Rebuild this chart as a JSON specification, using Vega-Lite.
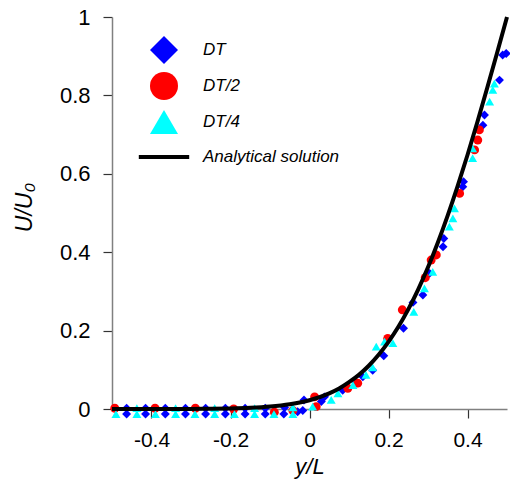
{
  "$schema": "https://vega.github.io/schema/vega-lite/v6.json",
  "width": 395,
  "height": 392,
  "autosize": "none",
  "padding": {"left": 112, "top": 17, "right": 3, "bottom": 75},
  "background": "white",
  "config": {
    "view": {"stroke": null},
    "font": "Liberation Sans"
  },
  "datasets": {
    "pts": [
      {"series": "DT", "x": -0.463, "u": 0.002}, {"series": "DT", "x": -0.415, "u": 0.002}, {"series": "DT", "x": -0.365, "u": 0.002}, {"series": "DT", "x": -0.314, "u": 0.002}, {"series": "DT", "x": -0.263, "u": 0.002}, {"series": "DT", "x": -0.213, "u": 0.002}, {"series": "DT", "x": -0.163, "u": 0.002}, {"series": "DT", "x": -0.112, "u": 0.002}, {"series": "DT", "x": -0.063, "u": 0.004},
      {"series": "DT", "x": -0.463, "u": -0.013}, {"series": "DT", "x": -0.415, "u": -0.013}, {"series": "DT", "x": -0.365, "u": -0.013}, {"series": "DT", "x": -0.314, "u": -0.013}, {"series": "DT", "x": -0.263, "u": -0.013}, {"series": "DT", "x": -0.213, "u": -0.013}, {"series": "DT", "x": -0.163, "u": -0.013}, {"series": "DT", "x": -0.112, "u": -0.013}, {"series": "DT", "x": -0.065, "u": -0.013}, {"series": "DT", "x": -0.03, "u": -0.007},
      {"series": "DT", "x": -0.017, "u": -0.004}, {"series": "DT", "x": -0.014, "u": 0.023}, {"series": "DT", "x": 0.03, "u": 0.019}, {"series": "DT", "x": 0.038, "u": 0.031}, {"series": "DT", "x": 0.084, "u": 0.048}, {"series": "DT", "x": 0.118, "u": 0.066}, {"series": "DT", "x": 0.135, "u": 0.082}, {"series": "DT", "x": 0.16, "u": 0.099}, {"series": "DT", "x": 0.188, "u": 0.136}, {"series": "DT", "x": 0.238, "u": 0.206}, {"series": "DT", "x": 0.262, "u": 0.272}, {"series": "DT", "x": 0.287, "u": 0.291}, {"series": "DT", "x": 0.304, "u": 0.346}, {"series": "DT", "x": 0.338, "u": 0.414}, {"series": "DT", "x": 0.34, "u": 0.435}, {"series": "DT", "x": 0.388, "u": 0.567}, {"series": "DT", "x": 0.39, "u": 0.58}, {"series": "DT", "x": 0.439, "u": 0.724}, {"series": "DT", "x": 0.443, "u": 0.75}, {"series": "DT", "x": 0.481, "u": 0.839}, {"series": "DT", "x": 0.489, "u": 0.903}, {"series": "DT", "x": 0.498, "u": 0.907},
      {"series": "DT/2", "x": -0.493, "u": 0.002}, {"series": "DT/2", "x": -0.391, "u": 0.002}, {"series": "DT/2", "x": -0.289, "u": 0.002}, {"series": "DT/2", "x": -0.192, "u": 0.0}, {"series": "DT/2", "x": -0.089, "u": -0.008}, {"series": "DT/2", "x": -0.042, "u": -0.004},
      {"series": "DT/2", "x": 0.013, "u": 0.031}, {"series": "DT/2", "x": 0.017, "u": 0.006}, {"series": "DT/2", "x": 0.097, "u": 0.053}, {"series": "DT/2", "x": 0.122, "u": 0.066}, {"series": "DT/2", "x": 0.198, "u": 0.18}, {"series": "DT/2", "x": 0.235, "u": 0.253}, {"series": "DT/2", "x": 0.293, "u": 0.335}, {"series": "DT/2", "x": 0.308, "u": 0.38}, {"series": "DT/2", "x": 0.321, "u": 0.393}, {"series": "DT/2", "x": 0.38, "u": 0.55}, {"series": "DT/2", "x": 0.418, "u": 0.661}, {"series": "DT/2", "x": 0.426, "u": 0.686}, {"series": "DT/2", "x": 0.43, "u": 0.712},
      {"series": "DT/4", "x": -0.437, "u": 0.002}, {"series": "DT/4", "x": -0.339, "u": 0.002}, {"series": "DT/4", "x": -0.24, "u": 0.002}, {"series": "DT/4", "x": -0.139, "u": 0.002}, {"series": "DT/4", "x": -0.042, "u": 0.004},
      {"series": "DT/4", "x": -0.49, "u": -0.013}, {"series": "DT/4", "x": -0.437, "u": -0.013}, {"series": "DT/4", "x": -0.39, "u": -0.013}, {"series": "DT/4", "x": -0.339, "u": -0.013}, {"series": "DT/4", "x": -0.29, "u": -0.013}, {"series": "DT/4", "x": -0.24, "u": -0.013}, {"series": "DT/4", "x": -0.19, "u": -0.013}, {"series": "DT/4", "x": -0.139, "u": -0.013}, {"series": "DT/4", "x": -0.09, "u": -0.013}, {"series": "DT/4", "x": -0.042, "u": -0.013},
      {"series": "DT/4", "x": 0.008, "u": 0.006}, {"series": "DT/4", "x": 0.055, "u": 0.023}, {"series": "DT/4", "x": 0.072, "u": 0.04}, {"series": "DT/4", "x": 0.11, "u": 0.061}, {"series": "DT/4", "x": 0.143, "u": 0.087}, {"series": "DT/4", "x": 0.16, "u": 0.106}, {"series": "DT/4", "x": 0.169, "u": 0.159}, {"series": "DT/4", "x": 0.19, "u": 0.172}, {"series": "DT/4", "x": 0.211, "u": 0.168}, {"series": "DT/4", "x": 0.264, "u": 0.248}, {"series": "DT/4", "x": 0.291, "u": 0.308}, {"series": "DT/4", "x": 0.312, "u": 0.35}, {"series": "DT/4", "x": 0.354, "u": 0.465}, {"series": "DT/4", "x": 0.363, "u": 0.486}, {"series": "DT/4", "x": 0.367, "u": 0.512}, {"series": "DT/4", "x": 0.413, "u": 0.64}, {"series": "DT/4", "x": 0.413, "u": 0.665}, {"series": "DT/4", "x": 0.456, "u": 0.784}, {"series": "DT/4", "x": 0.464, "u": 0.814}, {"series": "DT/4", "x": 0.468, "u": 0.83}
    ],
    "analytic": [
      {"x": -0.5, "u": 0.0}, {"x": -0.35, "u": 0.0}, {"x": -0.3, "u": 0.0002}, {"x": -0.25, "u": 0.0006}, {"x": -0.2, "u": 0.0014}, {"x": -0.15, "u": 0.003}, {"x": -0.1, "u": 0.0062}, {"x": -0.05, "u": 0.0121}, {"x": 0.0, "u": 0.0223}, {"x": 0.05, "u": 0.04}, {"x": 0.075, "u": 0.0524}, {"x": 0.1, "u": 0.0685}, {"x": 0.125, "u": 0.0871}, {"x": 0.15, "u": 0.1103}, {"x": 0.175, "u": 0.1383}, {"x": 0.2, "u": 0.1713}, {"x": 0.225, "u": 0.2097}, {"x": 0.25, "u": 0.2541}, {"x": 0.275, "u": 0.3047}, {"x": 0.3, "u": 0.3615}, {"x": 0.325, "u": 0.4247}, {"x": 0.35, "u": 0.4938}, {"x": 0.375, "u": 0.5685}, {"x": 0.4, "u": 0.648}, {"x": 0.425, "u": 0.732}, {"x": 0.45, "u": 0.8196}, {"x": 0.475, "u": 0.909}, {"x": 0.5, "u": 1.0}
    ]
  },
  "layer": [
    {
      "data": {"name": "pts"},
      "mark": {"type": "point", "filled": true, "opacity": 1, "size": 80},
      "encoding": {
        "x": {
          "field": "x", "type": "quantitative",
          "scale": {"domain": [-0.5, 0.5], "nice": false, "zero": false},
          "axis": {
            "values": [-0.4, -0.2, 0, 0.2, 0.4],
            "labelExpr": "datum.value + ''",
            "grid": false, "domainColor": "#808080", "domainWidth": 1.5,
            "tickColor": "#333333", "tickSize": 9, "tickWidth": 1.2,
            "labelFont": "Liberation Sans", "labelFontSize": 21, "labelColor": "#000000", "labelPadding": 11,
            "title": "y/L", "titleFont": "Liberation Sans", "titleFontSize": 22, "titleFontStyle": "italic", "titleFontWeight": "normal", "titleColor": "#000000",
            "titleY": 47, "titleBaseline": "top"
          }
        },
        "y": {
          "field": "u", "type": "quantitative",
          "scale": {"domain": [0, 1], "nice": false, "zero": false, "clamp": false},
          "axis": {
            "values": [0, 0.2, 0.4, 0.6, 0.8, 1],
            "labelExpr": "datum.value + ''",
            "grid": false, "domainColor": "#808080", "domainWidth": 1.5,
            "tickColor": "#333333", "tickSize": 9, "tickWidth": 1.2,
            "labelFont": "Liberation Sans", "labelFontSize": 22, "labelColor": "#000000", "labelPadding": 13,
            "title": "U/U₀", "titleFont": "Liberation Sans", "titleFontSize": 23, "titleFontStyle": "italic", "titleFontWeight": "normal", "titleColor": "#000000",
            "titleX": -76, "titleY": 190
          }
        },
        "color": {
          "field": "series", "type": "nominal",
          "scale": {"domain": ["DT", "DT/2", "DT/4", "Analytical solution"], "range": ["#0000ff", "#ff0000", "#00ffff", "#000000"]},
          "legend": {
            "orient": "none", "legendX": 38, "legendY": 19, "title": null, "padding": 0,
            "symbolSize": 784, "symbolStrokeWidth": 0, "symbolOpacity": 1,
            "labelFont": "Liberation Sans", "labelFontSize": 17, "labelFontStyle": "italic", "labelColor": "#000000",
            "labelOffset": 25, "rowPadding": 8, "labelLimit": 300
          }
        },
        "shape": {
          "field": "series", "type": "nominal",
          "scale": {"domain": ["DT", "DT/2", "DT/4", "Analytical solution"], "range": ["diamond", "circle", "triangle-up", "M-1.8,-0.14L1.8,-0.14L1.8,0.14L-1.8,0.14Z"]},
          "legend": {
            "orient": "none", "legendX": 38, "legendY": 19, "title": null, "padding": 0,
            "symbolSize": 784, "symbolStrokeWidth": 0, "symbolOpacity": 1,
            "labelFont": "Liberation Sans", "labelFontSize": 17, "labelFontStyle": "italic", "labelColor": "#000000",
            "labelOffset": 25, "rowPadding": 8, "labelLimit": 300
          }
        }
      }
    },
    {
      "data": {"name": "analytic"},
      "mark": {"type": "line", "color": "#000000", "strokeWidth": 4, "interpolate": "monotone"},
      "encoding": {
        "x": {"field": "x", "type": "quantitative"},
        "y": {"field": "u", "type": "quantitative"}
      }
    }
  ]
}
